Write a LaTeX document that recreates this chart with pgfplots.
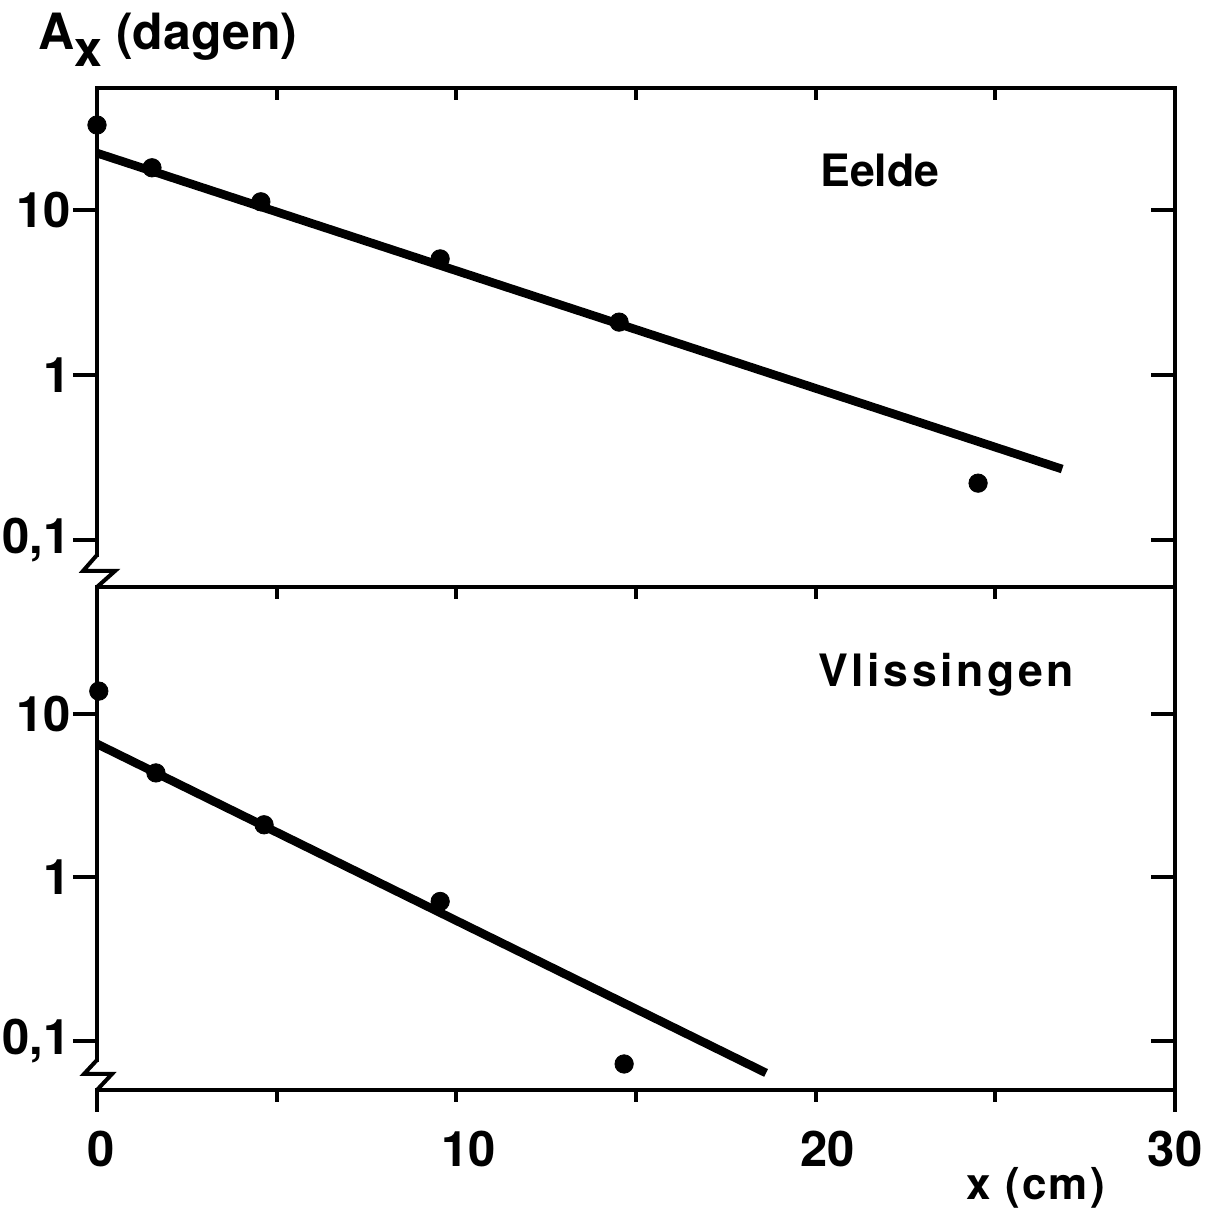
\documentclass[border=0pt]{standalone}
\usepackage{fontspec}
\setmainfont{TeX Gyre Heros}
\usepackage{pgfplots}
\pgfplotsset{compat=1.18}

\pgfplotsset{
 panel/.style={scale only axis, width=539pt, xmin=0, xmax=30, clip=false,
   axis line style={line width=2pt, black},
   tick style={line width=2pt, black},
   tick label style={font=\fontsize{24.5}{29}\selectfont\bfseries},
   /pgf/number format/assume math mode=true},
 yside/.style={xtick=\empty, ytick={0.1,1,10}, yticklabels={{0,1},1,10},
   yminorticks=false, major tick length=12pt, tick align=center,
   ytick style={xshift=-6pt}, ytick pos=both, yticklabel pos=left,
   yticklabel style={anchor=east, inner sep=0pt, xshift=-7pt}},
 xside/.style={ytick=\empty, ymin=0, ymax=1, xtick={0,5,...,30}, major tick length=6pt,
   tick align=center, xtick style={yshift=-3pt}, xtick pos=both, xticklabel pos=lower,
   xticklabel style={anchor=north, inner sep=0pt, yshift=-17.5pt}},
}

\begin{document}
\begin{tikzpicture}
\useasboundingbox (0pt,0pt) rectangle (611.5pt,-606.5pt);

% ---------- top panel: Eelde ----------
\begin{axis}[ymode=log, panel, yside, at={(48.5pt,-44pt)}, anchor=north west, height=249.5pt,
  ymin=0.0519, ymax=54.8]
\addplot[black, line width=4.3pt, no marks] coordinates {(0,22.1) (26.86,0.269)};
\addplot[only marks, mark=*, mark size=4.6pt, black] coordinates
  {(0,32.7) (1.53,18.0) (4.56,11.2) (9.55,5.05) (14.53,2.09) (24.52,0.221)};
\end{axis}
\begin{axis}[panel, xside, at={(48.5pt,-44pt)}, anchor=north west, height=249.5pt,
  xticklabels={}]
\end{axis}

% ---------- bottom panel: Vlissingen ----------
\begin{axis}[ymode=log, panel, yside, at={(48.5pt,-293.5pt)}, anchor=north west, height=251.5pt,
  ymin=0.0501, ymax=59.8]
\addplot[black, line width=4.3pt, no marks] coordinates {(0,6.56) (18.62,0.0637)};
\addplot[only marks, mark=*, mark size=4.6pt, black] coordinates
  {(0.05,13.8) (1.64,4.36) (4.65,2.10) (9.55,0.713) (14.67,0.0723)};
\end{axis}
\begin{axis}[panel, xside, at={(48.5pt,-293.5pt)}, anchor=north west, height=251.5pt,
  xticklabels={\hspace{4pt}0,,\hspace{12pt}10,,\hspace{12pt}20,,30}]
\end{axis}

% axis breaks
\draw[white, line width=4pt] (48.5pt,-278.5pt) -- (48.5pt,-292.3pt);
\draw[black, line width=2pt] (48.5pt,-277.5pt) -- (41.5pt,-285.5pt) -- (57.5pt,-285.5pt) -- (48.5pt,-293.5pt);
\draw[white, line width=4pt] (48.5pt,-531pt) -- (48.5pt,-543.8pt);
\draw[black, line width=2pt] (48.5pt,-530pt) -- (42pt,-537pt) -- (56pt,-537pt) -- (48.5pt,-545pt);
% extended end ticks
\draw[black, line width=2pt] (48.5pt,-545pt) -- (48.5pt,-556pt);
\draw[black, line width=2pt] (587.5pt,-545pt) -- (587.5pt,-556pt);

% texts
\node[anchor=base west, inner sep=0pt, font=\fontsize{25}{30}\selectfont\bfseries]
  at (19pt,-25pt) {A\raisebox{-8.5pt}{x} (dagen)};
\node[anchor=base west, inner sep=0pt, font=\fontsize{22}{26}\selectfont\bfseries\addfontfeatures{LetterSpace=5}]
  at (483pt,-600pt) {x (cm)};
\node[anchor=base west, inner sep=0pt, font=\fontsize{22.3}{27}\selectfont\bfseries]
  at (410pt,-93.5pt) {Eelde};
\node[anchor=base west, inner sep=0pt, font=\fontsize{22.3}{27}\selectfont\bfseries\addfontfeatures{LetterSpace=8}]
  at (409pt,-343.5pt) {Vlissingen};
\end{tikzpicture}
\end{document}
